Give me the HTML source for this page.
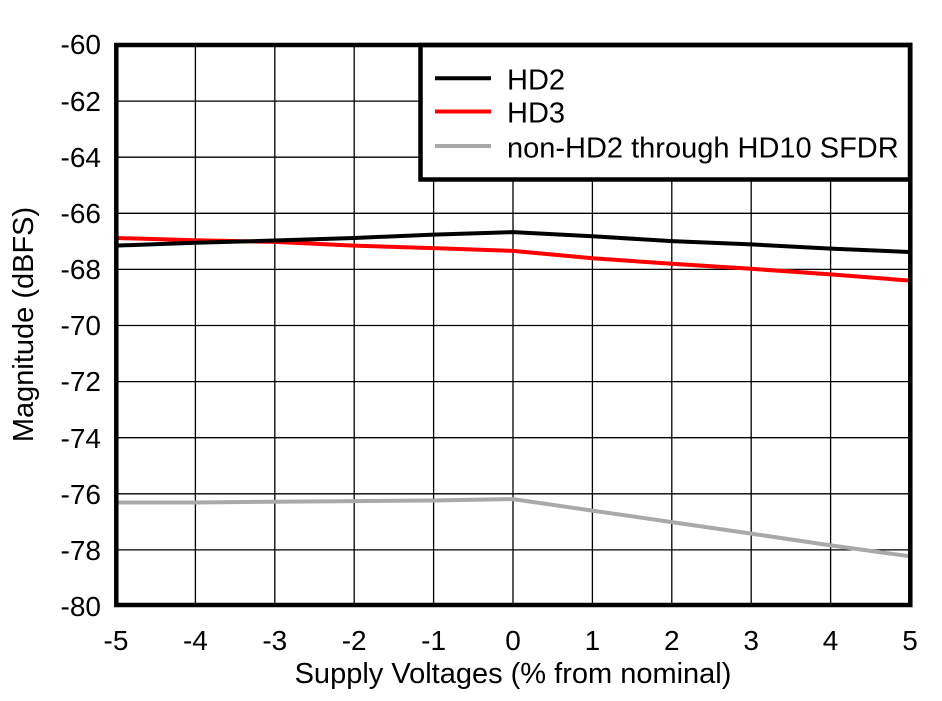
<!DOCTYPE html>
<html>
<head>
<meta charset="utf-8">
<style>
html,body{margin:0;padding:0;background:#fff;}
svg{display:block;}
text{font-family:"Liberation Sans",Arial,sans-serif;fill:#000;}
</style>
</head>
<body>
<svg width="942" height="701" viewBox="0 0 942 701" xmlns="http://www.w3.org/2000/svg">
<rect x="0" y="0" width="942" height="701" fill="#fff"/>
<!-- grid -->
<g stroke="#000" stroke-width="1.3">
<line x1="195.4" y1="45" x2="195.4" y2="605"/>
<line x1="274.8" y1="45" x2="274.8" y2="605"/>
<line x1="354.2" y1="45" x2="354.2" y2="605"/>
<line x1="433.6" y1="45" x2="433.6" y2="605"/>
<line x1="513" y1="45" x2="513" y2="605"/>
<line x1="592.4" y1="45" x2="592.4" y2="605"/>
<line x1="671.8" y1="45" x2="671.8" y2="605"/>
<line x1="751.2" y1="45" x2="751.2" y2="605"/>
<line x1="830.6" y1="45" x2="830.6" y2="605"/>
<line x1="116" y1="101.1" x2="910" y2="101.1"/>
<line x1="116" y1="157.2" x2="910" y2="157.2"/>
<line x1="116" y1="213.3" x2="910" y2="213.3"/>
<line x1="116" y1="269.4" x2="910" y2="269.4"/>
<line x1="116" y1="325.5" x2="910" y2="325.5"/>
<line x1="116" y1="381.6" x2="910" y2="381.6"/>
<line x1="116" y1="437.7" x2="910" y2="437.7"/>
<line x1="116" y1="493.8" x2="910" y2="493.8"/>
<line x1="116" y1="549.9" x2="910" y2="549.9"/>
</g>
<!-- series -->
<g fill="none" stroke-width="4" stroke-linejoin="round">
<polyline stroke="#a9a9a9" points="116,502.5 195.4,502.5 274.8,501.7 354.2,501.1 433.6,500.5 513,499.1 592.4,510.6 671.8,522.1 751.2,533.6 830.6,545.4 910,556.3"/>
<polyline stroke="#ff0000" points="116,238 195.4,240.2 274.8,241.9 354.2,245.6 433.6,248.1 513,250.9 592.4,258.2 671.8,263.8 751.2,268.8 830.6,274.4 910,280.6"/>
<polyline stroke="#000000" points="116,245.6 195.4,242.8 274.8,240.5 354.2,238 433.6,234.6 513,232.1 592.4,236.3 671.8,241.1 751.2,244.4 830.6,248.6 910,252"/>
</g>
<!-- legend -->
<rect x="420.5" y="45" width="489.5" height="134.5" fill="#fff" stroke="#000" stroke-width="4.5"/>
<line x1="435" y1="78.3" x2="491" y2="78.3" stroke="#000" stroke-width="4"/>
<line x1="435" y1="111.5" x2="491" y2="111.5" stroke="#ff0000" stroke-width="4"/>
<line x1="435" y1="146" x2="491" y2="146" stroke="#a9a9a9" stroke-width="4"/>
<text x="507" y="89.3" font-size="29">HD2</text>
<text x="507" y="122.7" font-size="29">HD3</text>
<text x="507" y="157.3" font-size="29">non-HD2 through HD10 SFDR</text>
<!-- frame -->
<rect x="116.3" y="45" width="794" height="560" fill="none" stroke="#000" stroke-width="4.5"/>
<!-- y tick labels -->
<g font-size="28" text-anchor="end">
<text x="101" y="54">-60</text>
<text x="101" y="111">-62</text>
<text x="101" y="167">-64</text>
<text x="101" y="223">-66</text>
<text x="101" y="279">-68</text>
<text x="101" y="335">-70</text>
<text x="101" y="391">-72</text>
<text x="101" y="448">-74</text>
<text x="101" y="504">-76</text>
<text x="101" y="560">-78</text>
<text x="101" y="616">-80</text>
</g>
<!-- x tick labels -->
<g font-size="28" text-anchor="middle">
<text x="116" y="650">-5</text>
<text x="195.4" y="650">-4</text>
<text x="274.8" y="650">-3</text>
<text x="354.2" y="650">-2</text>
<text x="433.6" y="650">-1</text>
<text x="513" y="650">0</text>
<text x="592.4" y="650">1</text>
<text x="671.8" y="650">2</text>
<text x="751.2" y="650">3</text>
<text x="830.6" y="650">4</text>
<text x="910" y="650">5</text>
</g>
<text x="513" y="683" font-size="29" text-anchor="middle">Supply Voltages (% from nominal)</text>
<text x="0" y="0" font-size="29" text-anchor="middle" transform="translate(33,324.5) rotate(-90)">Magnitude (dBFS)</text>
</svg>
</body>
</html>
